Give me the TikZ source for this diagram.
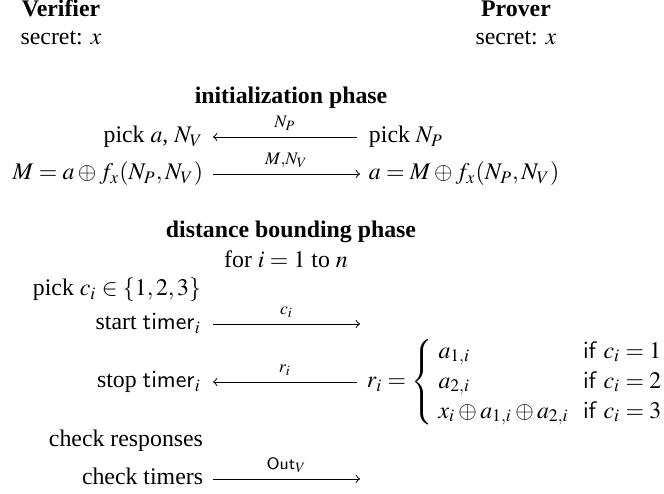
\documentclass[tikz,border=0pt]{standalone}
\usepackage{amsmath}
\usepackage{mathptmx}
\usepackage{fontspec}
\setmainfont{Liberation Serif}
\begin{document}
\begin{tikzpicture}[x=0.42pt,y=-0.42pt,
  txt/.style={inner sep=0pt,outer sep=0pt},
  msg/.style={line width=0.4pt},
  lbl/.style={inner sep=0pt,outer sep=0pt,anchor=base,yshift=4pt}]
\useasboundingbox[fill=white] (0,0) rectangle (664,494);
% headers
\node[txt,anchor=base] (ver) at (61,17) {\textbf{Verifier}};
\node[txt,anchor=base] (secV) at (61,45) {secret: $x$};
\node[txt,anchor=base] (prov) at (516,17) {\textbf{Prover}};
\node[txt,anchor=base] (secP) at (516,45) {secret: $x$};
% initialization phase
\node[txt,anchor=base] (init) at (291,104) {\textbf{initialization phase}};
\node[txt,anchor=base east] (pickaNV) at (203,143) {pick $a$, $N_V$};
\node[txt,anchor=base west] (pickNP) at (369,143) {pick $N_P$};
\coordinate (a1L) at (213,137);
\coordinate (a1R) at (357,137);
\draw[msg,<-] (a1L) -- node[lbl] (lNP) {$\scriptstyle N_P$} (a1R);
\node[txt,anchor=base east] (Meq) at (203,180) {$M = a \oplus f_x(N_P,N_V)$};
\node[txt,anchor=base west] (aeq) at (369,180) {$a = M \oplus f_x(N_P,N_V)$};
\coordinate (a2L) at (213,174);
\coordinate (a2R) at (360,174);
\draw[msg,->] (a2L) -- node[lbl] (lMNV) {$\scriptstyle M,N_V$} (a2R);
% distance bounding phase
\node[txt,anchor=base] (dist) at (291,238) {\textbf{distance bounding phase}};
\node[txt,anchor=base] (for) at (286,268) {for $i = 1$ to $n$};
\node[txt,anchor=base east] (pickci) at (201,296) {pick $c_i \in \{1,2,3\}$};
\node[txt,anchor=base east] (start) at (201,330) {start $\mathsf{timer}_i$};
\coordinate (a3L) at (213,324);
\coordinate (a3R) at (360,324);
\draw[msg,->] (a3L) -- node[lbl] (lci) {$\scriptstyle c_i$} (a3R);
\node[txt,anchor=base east] (stop) at (201,388) {stop $\mathsf{timer}_i$};
\coordinate (a4L) at (213,382);
\coordinate (a4R) at (357,382);
\draw[msg,<-] (a4L) -- node[lbl] (lri) {$\scriptstyle r_i$} (a4R);
\node[txt,anchor=base west] (ri) at (367,388) {$r_i = \left\{\renewcommand{\arraystretch}{1.05}\begin{array}{@{\hspace{2.5pt}}l@{\hspace{6pt}}l@{}}
  a_{1,i} & \mathsf{if}\ c_i = 1\\
  a_{2,i} & \mathsf{if}\ c_i = 2\\
  x_i \oplus a_{1,i} \oplus a_{2,i} & \mathsf{if}\ c_i = 3
  \end{array}\right.$};
\node[txt,anchor=base east] (chkresp) at (203,447) {check responses};
\node[txt,anchor=base east] (chktim) at (203,485) {check timers};
\coordinate (a5L) at (213,479);
\coordinate (a5R) at (360,479);
\draw[msg,->] (a5L) -- node[lbl] (lout) {$\scriptstyle \mathsf{Out}_V$} (a5R);
\end{tikzpicture}
\end{document}
